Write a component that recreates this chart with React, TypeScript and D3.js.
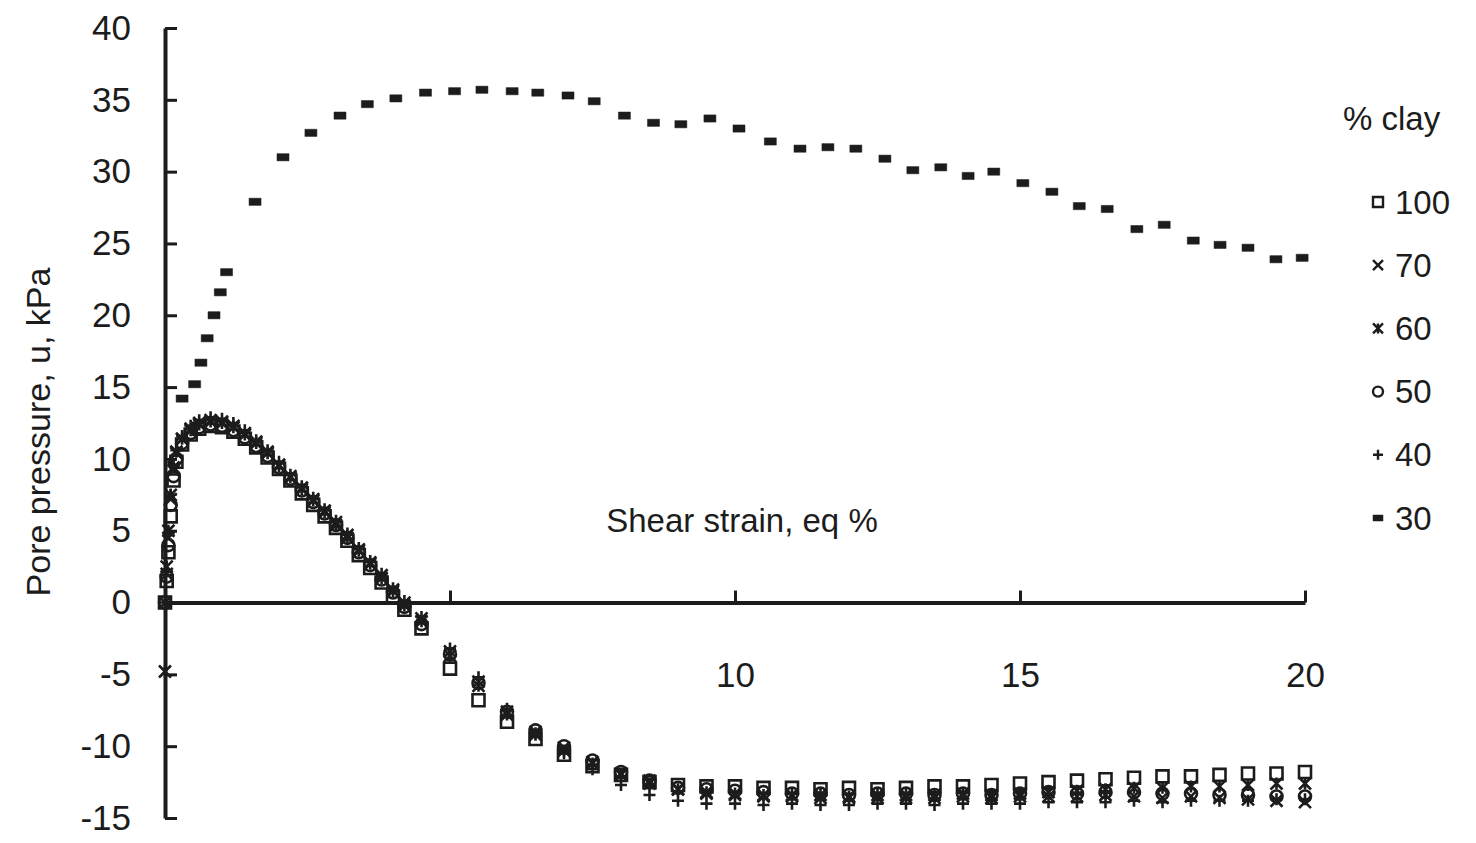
import React, { useEffect, useRef } from 'react';
import * as d3 from 'd3';

// shear strain (eq %) readings shared by the clay mixes 40-100 %
const strain = [0, 0.03, 0.06, 0.1, 0.15, 0.2, 0.3, 0.45, 0.6, 0.8,
  1.0, 1.2, 1.4, 1.6, 1.8, 2.0, 2.2, 2.4, 2.6, 2.8,
  3.0, 3.2, 3.4, 3.6, 3.8, 4.0, 4.2, 4.5, 5.0, 5.5,
  6.0, 6.5, 7.0, 7.5, 8.0, 8.5, 9.0, 9.5, 10.0, 10.5,
  11.0, 11.5, 12.0, 12.5, 13.0, 13.5, 14.0, 14.5, 15.0, 15.5,
  16.0, 16.5, 17.0, 17.5, 18.0, 18.5, 19.0, 19.5, 20.0];

const clay100 = [0, 1.5, 3.5, 6, 8.5, 9.8, 11.0, 11.7, 12.1, 12.3,
  12.2, 11.9, 11.4, 10.8, 10.1, 9.3, 8.5, 7.6, 6.8, 6.0,
  5.2, 4.3, 3.3, 2.4, 1.4, 0.4, -0.5, -1.8, -4.6, -6.8,
  -8.3, -9.5, -10.6, -11.4, -12.0, -12.5, -12.7, -12.8, -12.8, -12.9,
  -12.9, -13.0, -12.9, -13.0, -12.9, -12.8, -12.8, -12.7, -12.6, -12.5,
  -12.4, -12.3, -12.2, -12.1, -12.1, -12.0, -11.9, -11.9, -11.8];

const clay70 = [0, 2, 4.5, 7.2, 9.2, 10.4, 11.4, 12.1, 12.5, 12.7,
  12.6, 12.3, 11.8, 11.2, 10.5, 9.6, 8.8, 8.0, 7.2, 6.4,
  5.6, 4.7, 3.7, 2.8, 1.9, 0.9, 0.0, -1.1, -3.4, -5.5,
  -7.6, -9.0, -10.1, -11.1, -11.9, -12.4, -13.0, -13.3, -13.4, -13.5,
  -13.5, -13.6, -13.6, -13.6, -13.6, -13.6, -13.5, -13.6, -13.5, -13.5,
  -13.5, -13.4, -13.5, -13.6, -13.5, -13.6, -13.7, -13.8, -13.9];

const clay60 = [-4.8, 2.5, 5, 7.5, 9.4, 10.5, 11.4, 12.0, 12.4, 12.6,
  12.5, 12.2, 11.7, 11.1, 10.4, 9.5, 8.7, 7.9, 7.1, 6.3,
  5.4, 4.5, 3.6, 2.7, 1.7, 0.8, -0.2, -1.3, -3.7, -5.8,
  -7.8, -9.2, -10.3, -11.2, -12.0, -12.6, -13.0, -13.2, -13.3, -13.4,
  -13.4, -13.4, -13.5, -13.4, -13.4, -13.4, -13.3, -13.4, -13.3, -13.2,
  -13.1, -13.0, -12.9, -12.9, -12.8, -12.8, -12.7, -12.6, -12.6];

const clay50 = [0, 1.8, 4, 6.8, 8.8, 10.0, 11.1, 11.8, 12.2, 12.4,
  12.3, 12.0, 11.5, 10.9, 10.2, 9.4, 8.6, 7.8, 7.0, 6.2,
  5.4, 4.5, 3.5, 2.6, 1.6, 0.7, -0.3, -1.5, -3.6, -5.6,
  -7.6, -8.9, -10.0, -11.0, -11.8, -12.4, -12.9, -13.0, -13.1, -13.2,
  -13.3, -13.3, -13.4, -13.3, -13.3, -13.4, -13.3, -13.4, -13.3, -13.2,
  -13.3, -13.2, -13.2, -13.3, -13.3, -13.4, -13.4, -13.5, -13.5];

const clay40 = [0, 2.2, 4.8, 7.5, 9.5, 10.6, 11.6, 12.3, 12.7, 12.9,
  12.8, 12.5, 12.0, 11.3, 10.6, 9.8, 8.9, 8.1, 7.3, 6.5,
  5.7, 4.8, 3.8, 2.9, 2.0, 1.0, 0.1, -1.0, -3.2, -5.2,
  -7.4, -9.1, -10.5, -11.6, -12.7, -13.4, -13.8, -14.0, -14.0, -14.1,
  -14.0, -14.1, -14.1, -14.0, -14.0, -14.1, -14.0, -14.0, -14.0, -13.9,
  -13.9, -13.9, -13.8, -13.9, -13.8, -13.8, -13.8, -13.7, -13.7];

// 30 % clay has its own strain readings
const strain30 = [0.3, 0.52, 0.63, 0.74, 0.86, 0.97,
  1.08, 1.58, 2.07, 2.56, 3.07, 3.55, 4.05, 4.57, 5.08, 5.56,
  6.09, 6.54, 7.07, 7.53, 8.06, 8.57, 9.05, 9.56, 10.07, 10.62,
  11.14, 11.63, 12.12, 12.63, 13.12, 13.61, 14.09, 14.54, 15.05, 15.56,
  16.04, 16.53, 17.05, 17.53, 18.04, 18.51, 19.0, 19.49, 19.95];
const clay30 = [14.2, 15.2, 16.7, 18.4, 20.0, 21.6,
  23.0, 27.9, 31.0, 32.7, 33.9, 34.7, 35.1, 35.5, 35.6, 35.7,
  35.6, 35.5, 35.3, 34.9, 33.9, 33.4, 33.3, 33.7, 33.0, 32.1,
  31.6, 31.7, 31.6, 30.9, 30.1, 30.3, 29.7, 30.0, 29.2, 28.6,
  27.6, 27.4, 26.0, 26.3, 25.2, 24.9, 24.7, 23.9, 24.0];

const legendLabels = ['100', '70', '60', '50', '40', '30'];
const markerTypes = ['square', 'x', 'star', 'circle', 'plus', 'dash'];
const yTicks = [-15, -10, -5, 0, 5, 10, 15, 20, 25, 30, 35, 40];
const xTicks = [5, 10, 15, 20];
const xLabelled = [10, 15, 20];

const INK = '#1c1c1c';
const FONT = '"Liberation Sans", Arial, sans-serif';

const markerPath = (type, h) => {
  switch (type) {
    case 'square': return `M${-h},${-h}H${h}V${h}H${-h}Z`;
    case 'x': return `M${-h},${-h}L${h},${h}M${-h},${h}L${h},${-h}`;
    case 'star': return `M${-h},${-h}L${h},${h}M${-h},${h}L${h},${-h}M0,${-h}V${h}`;
    case 'plus': return `M${-h},0H${h}M0,${-h}V${h}`;
    case 'circle': return d3.arc()({ innerRadius: 0, outerRadius: h, startAngle: 0, endAngle: 2 * Math.PI });
    default: return `M${-h},${-h * 0.6}H${h}V${h * 0.6}H${-h}Z`;
  }
};

const App = () => {
  const svgRef = useRef(null);

  useEffect(() => {
    const svg = d3.select(svgRef.current);
    svg.selectAll('*').remove();
    const width = 1476;
    const height = 843;

    const x = d3.scaleLinear().domain([0, 20]).range([165, 1305]);
    const y = d3.scaleLinear().domain([-15, 40]).range([818, 28]);

    svg.attr('width', width).attr('height', height);
    svg.append('rect').attr('width', width).attr('height', height).attr('fill', '#fff');

    // y axis, ticks pointing inward
    const yAxis = svg.append('g')
      .attr('transform', `translate(${x(0)},0)`)
      .call(d3.axisLeft(y).tickValues(yTicks).tickSize(-12).tickSizeOuter(0).tickPadding(34)
        .tickFormat(d => String(d)));
    yAxis.select('.domain').attr('stroke', INK).attr('stroke-width', 4);
    yAxis.selectAll('.tick line').attr('stroke', INK).attr('stroke-width', 3);
    yAxis.selectAll('.tick text')
      .attr('fill', INK).style('font-family', FONT).style('font-size', '35px');

    // x axis drawn through y = 0
    const xAxis = svg.append('g')
      .attr('transform', `translate(0,${y(0)})`)
      .call(d3.axisBottom(x).tickValues(xTicks).tickSize(-12).tickSizeOuter(0).tickPadding(60)
        .tickFormat(d => (xLabelled.includes(d) ? String(d) : '')));
    xAxis.select('.domain').attr('stroke', INK).attr('stroke-width', 4);
    xAxis.selectAll('.tick line').attr('stroke', INK).attr('stroke-width', 3);
    xAxis.selectAll('.tick text')
      .attr('fill', INK).style('font-family', FONT).style('font-size', '35px');

    svg.append('text')
      .attr('x', 742).attr('y', 532)
      .attr('text-anchor', 'middle')
      .attr('fill', INK)
      .style('font-family', FONT).style('font-size', '33px')
      .text('Shear strain, eq %');

    svg.append('text')
      .attr('transform', 'translate(50,432) rotate(-90)')
      .attr('text-anchor', 'middle')
      .attr('fill', INK)
      .style('font-family', FONT).style('font-size', '34px')
      .text('Pore pressure, u, kPa');

    const series = [
      { xs: strain, ys: clay100, type: 'square' },
      { xs: strain, ys: clay70, type: 'x' },
      { xs: strain, ys: clay60, type: 'star' },
      { xs: strain, ys: clay50, type: 'circle' },
      { xs: strain, ys: clay40, type: 'plus' },
      { xs: strain30, ys: clay30, type: 'dash' },
    ];

    series.forEach(s => {
      const pts = s.xs.map((v, i) => [v, s.ys[i]]);
      const filled = s.type === 'dash';
      svg.append('g')
        .selectAll('path')
        .data(pts)
        .join('path')
        .attr('transform', d => `translate(${x(d[0])},${y(d[1])})`)
        .attr('d', markerPath(s.type, 6))
        .attr('fill', filled ? INK : 'none')
        .attr('stroke', INK)
        .attr('stroke-width', filled ? 0.5 : 2.6);
    });

    // legend
    const legend = svg.append('g');
    legend.append('text')
      .attr('x', 1343).attr('y', 130)
      .attr('fill', INK)
      .style('font-family', FONT).style('font-size', '33px')
      .text('% clay');

    const ly = d3.scalePoint().domain(legendLabels).range([202, 518]);
    legendLabels.forEach((lab, i) => {
      const t = markerTypes[i];
      legend.append('path')
        .attr('transform', `translate(1378,${ly(lab)})`)
        .attr('d', markerPath(t, 5))
        .attr('fill', t === 'dash' ? INK : 'none')
        .attr('stroke', INK)
        .attr('stroke-width', t === 'dash' ? 0.5 : 2.4);
      legend.append('text')
        .attr('x', 1395).attr('y', ly(lab))
        .attr('dy', '0.35em')
        .attr('fill', INK)
        .style('font-family', FONT).style('font-size', '33px')
        .text(lab);
    });
  }, []);

  return (
    <div>
      <svg ref={svgRef} style={{ position: 'absolute', left: 0, top: 0 }}></svg>
    </div>
  );
};

export default App;
